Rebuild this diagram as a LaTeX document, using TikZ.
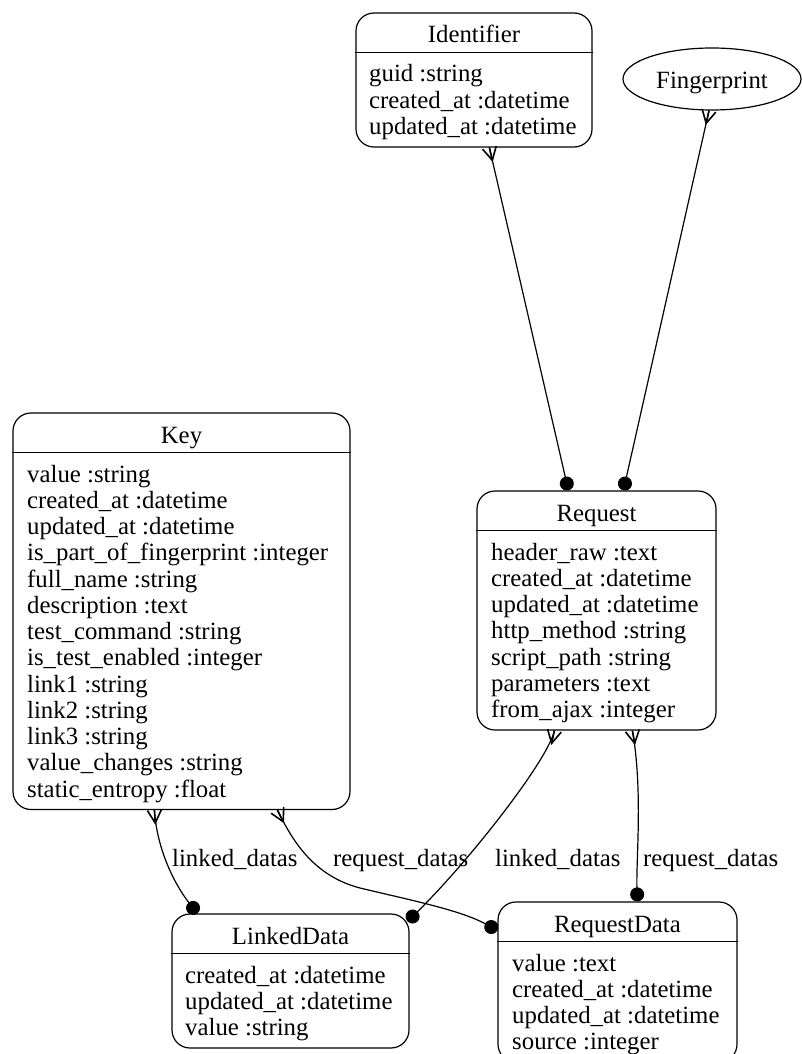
\documentclass[tikz,border=0pt]{standalone}
\usepackage{fontspec}
\setmainfont{Liberation Serif}
\usetikzlibrary{arrows.meta,decorations.markings,shapes.geometric,calc}

\tikzset{
  every node/.style={font=\fontsize{24.8}{26.25}\selectfont},
  entity/.style={draw, rounded corners=18pt, line width=1.2pt, inner sep=0pt},
  divider/.style={line width=1.2pt},
  title/.style={anchor=base, inner sep=0pt},
  % multi-line attribute lists are placed by the baseline of their last line
  attrs/.style={anchor=base west, align=left, inner sep=0pt},
  lbl/.style={anchor=base west, inner sep=0pt},
  rel/.style={line width=1.2pt, -{Circle[length=14pt]}, postaction={decorate},
    decoration={markings, mark=at position 0 with
      {\draw[-, line width=1.6pt, line join=miter] (0,7pt) -- (13pt,0) -- (0,-7pt);
       \draw[-, line width=1.6pt] (0,0) -- (13pt,0);}}},
}

\begin{document}
\begin{tikzpicture}[x=1pt,y=-1pt]
\useasboundingbox (0,0) rectangle (801,1054);

% ---- Identifier
\node[entity, minimum width=236pt, minimum height=134pt] (ident) at (474,80) {};
\draw[divider] ($(ident.north west)+(0,40)$) -- ($(ident.north east)+(0,40)$);
\node[title] (identT) at (474,43) {Identifier};
\node[attrs] (identA) at (369,134.5) {guid :string\\created\_at :datetime\\updated\_at :datetime};

% ---- Fingerprint
\node[draw, ellipse, line width=1.2pt, minimum width=178pt, minimum height=62pt, inner sep=0pt] (fp) at (712,79) {};
\node[title] (fpT) at (712,89) {Fingerprint};

% ---- Key
\node[entity, minimum width=337pt, minimum height=396.5pt] (key) at (181.5,611.25) {};
\draw[divider] ($(key.north west)+(0,40)$) -- ($(key.north east)+(0,40)$);
\node[title] (keyT) at (181.5,443) {Key};
\node[attrs] (keyA) at (27,797) {value :string\\created\_at :datetime\\updated\_at :datetime\\
  is\_part\_of\_fingerprint :integer\\full\_name :string\\description :text\\
  test\_command :string\\is\_test\_enabled :integer\\link1 :string\\link2 :string\\
  link3 :string\\value\_changes :string\\static\_entropy :float};

% ---- Request
\node[entity, minimum width=239pt, minimum height=239pt] (request) at (596.5,610.5) {};
\draw[divider] ($(request.north west)+(0,40)$) -- ($(request.north east)+(0,40)$);
\node[title] (requestT) at (596.5,521) {Request};
\node[attrs] (requestA) at (491,717.5) {header\_raw :text\\created\_at :datetime\\updated\_at :datetime\\
  http\_method :string\\script\_path :string\\parameters :text\\from\_ajax :integer};

% ---- LinkedData
\node[entity, minimum width=237pt, minimum height=134pt] (linked) at (290.5,981) {};
\draw[divider] ($(linked.north west)+(0,40)$) -- ($(linked.north east)+(0,40)$);
\node[title] (linkedT) at (290.5,944) {LinkedData};
\node[attrs] (linkedA) at (185,1035.5) {created\_at :datetime\\updated\_at :datetime\\value :string};

% ---- RequestData
\node[entity, minimum width=239pt, minimum height=160.25pt] (reqdata) at (617.5,982.1) {};
\draw[divider] ($(reqdata.north west)+(0,40)$) -- ($(reqdata.north east)+(0,40)$);
\node[title] (reqdataT) at (617.5,932) {RequestData};
\node[attrs] (reqdataA) at (512,1049.75) {value :text\\created\_at :datetime\\updated\_at :datetime\\source :integer};

% ---- relations
\draw[rel] ([xshift=134pt]ident.south west) -- ([xshift=92pt]request.north west);
\draw[rel] ([xshift=-3pt]fp.south) -- ([xshift=147pt]request.north west);

\draw[rel] ([xshift=142pt]key.south west)
  .. controls (157,850) and (175,885) .. ([xshift=26pt]linked.north west);
\draw[rel] ([xshift=265pt]key.south west)
  .. controls (290,835) and (310,875) .. (360,888)
  .. controls (410,900) and (460,910) .. ([yshift=-29pt]reqdata.north west);
\draw[rel] ([xshift=78pt]request.south west)
  .. controls (548,760) and (470,860) .. ([xshift=-2pt,yshift=-8pt]linked.north east);
\draw[rel] ([xshift=156pt]request.south west)
  .. controls (643,790) and (636,860) .. ([xshift=140pt]reqdata.north west);

% ---- relation labels
\node[lbl] (l1) at (172,866) {linked\_datas};
\node[lbl] (l2) at (333,866) {request\_datas};
\node[lbl] (l3) at (495,866) {linked\_datas};
\node[lbl] (l4) at (643,866) {request\_datas};
\end{tikzpicture}
\end{document}
